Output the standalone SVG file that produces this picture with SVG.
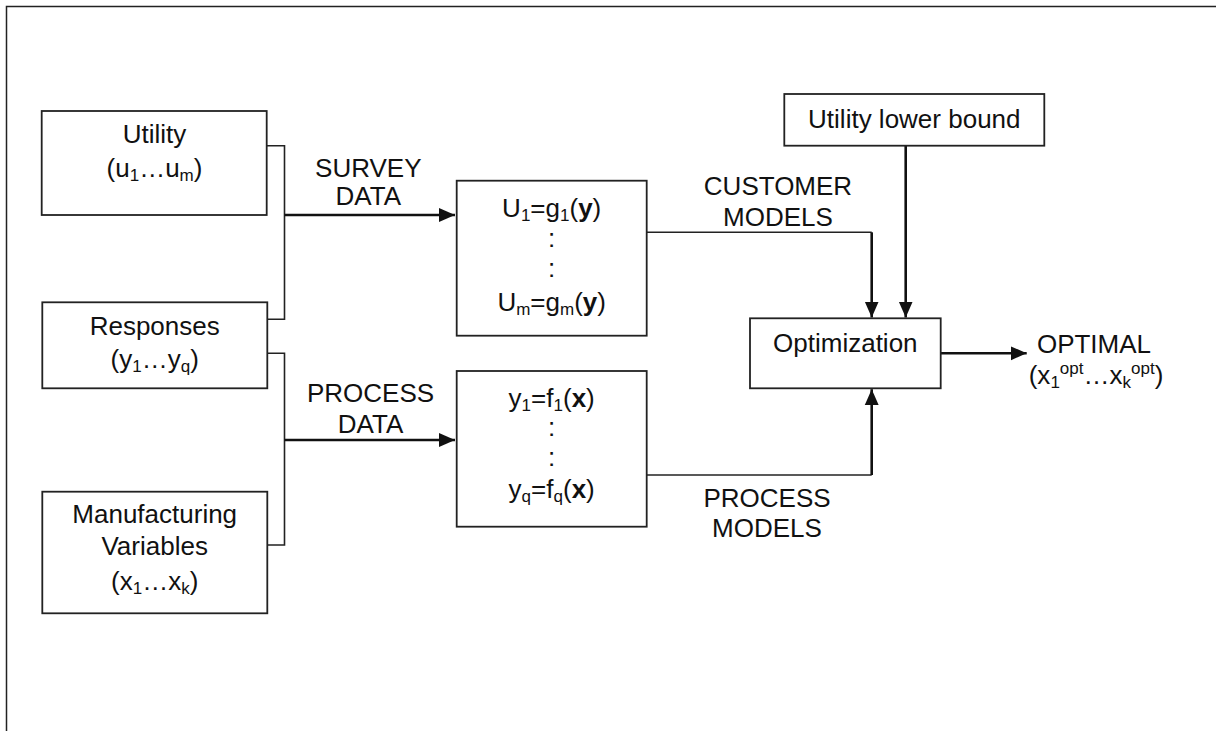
<svg xmlns="http://www.w3.org/2000/svg" width="1216" height="731" viewBox="0 0 1216 731">
  <defs>
    <style>
      .frame { fill: none; stroke: #222; stroke-width: 1.5; }
      .box { fill: #fff; stroke: #222; stroke-width: 1.8; }
      .thin { fill: none; stroke: #222; stroke-width: 1.6; }
      .thick { fill: none; stroke: #111; stroke-width: 2.6; }
      text { font-family: "Liberation Sans", Arial, sans-serif; font-size: 26px; fill: #111; }
      .c { text-anchor: middle; }
      .b { font-weight: bold; }
      .s { font-size: 17px; }
    </style>
    <marker id="arrow" markerUnits="userSpaceOnUse" markerWidth="17" markerHeight="15" refX="16" refY="7.5" orient="auto">
      <path d="M0,0.5 L16,7.5 L0,14.5 z" fill="#111"/>
    </marker>
  </defs>

  <rect width="1216" height="731" fill="#fff"/>

  <!-- page frame: top and left edges -->
  <path class="frame" d="M1216,6.5 H6.5 V731"/>

  <!-- connectors -->
  <g id="connectors">
    <!-- utility + responses bus into survey data -->
    <path class="thin" d="M266.7,145.7 H284.5 V319.3 H267.3"/>
    <path class="thick" d="M284.5,215 H455" marker-end="url(#arrow)"/>
    <!-- responses + manufacturing bus into process data -->
    <path class="thin" d="M267.3,353.3 H284.5 V545 H267.3"/>
    <path class="thick" d="M284.5,440 H455" marker-end="url(#arrow)"/>
    <!-- customer models -->
    <path class="thin" d="M646.7,232.3 H871.7"/>
    <path class="thick" d="M871.7,232.3 V317.5" marker-end="url(#arrow)"/>
    <!-- utility lower bound -->
    <path class="thick" d="M905.7,145.7 V317.5" marker-end="url(#arrow)"/>
    <!-- process models -->
    <path class="thin" d="M646.7,475 H871.7"/>
    <path class="thick" d="M871.7,475 V389.2" marker-end="url(#arrow)"/>
    <!-- optimal output -->
    <path class="thick" d="M940.7,353.3 H1026.7" marker-end="url(#arrow)"/>
  </g>

  <!-- connector labels -->
  <g id="labels">
    <text class="c" x="368.3" y="177.3">SURVEY</text>
    <text class="c" x="368.3" y="205">DATA</text>
    <text class="c" x="370.5" y="401.7">PROCESS</text>
    <text class="c" x="370.5" y="433.3">DATA</text>
    <text class="c" x="778" y="195">CUSTOMER</text>
    <text class="c" x="778" y="225.7">MODELS</text>
    <text class="c" x="767" y="506.7">PROCESS</text>
    <text class="c" x="767" y="536.7">MODELS</text>
    <text class="c" x="1094" y="352.7">OPTIMAL</text>
    <text class="c" x="1096" y="384">(x<tspan class="s" dy="4">1</tspan><tspan class="s" dy="-14">opt</tspan><tspan dy="10">…x</tspan><tspan class="s" dy="4">k</tspan><tspan class="s" dy="-14">opt</tspan><tspan dy="10">)</tspan></text>
  </g>

  <g id="utility">
    <rect class="box" x="41.7" y="111" width="225" height="104"/>
    <text class="c" x="154.5" y="143.3">Utility</text>
    <text class="c" x="154.5" y="176.7">(u<tspan class="s" dy="4">1</tspan><tspan dy="-4">…u</tspan><tspan class="s" dy="4">m</tspan><tspan dy="-4">)</tspan></text>
  </g>

  <g id="responses">
    <rect class="box" x="42.3" y="302.3" width="225" height="86"/>
    <text class="c" x="154.7" y="335">Responses</text>
    <text class="c" x="154.7" y="368.3">(y<tspan class="s" dy="4">1</tspan><tspan dy="-4">…y</tspan><tspan class="s" dy="4">q</tspan><tspan dy="-4">)</tspan></text>
  </g>

  <g id="manufacturing">
    <rect class="box" x="42.3" y="491.7" width="225" height="121.6"/>
    <text class="c" x="154.7" y="523.3">Manufacturing</text>
    <text class="c" x="154.7" y="555">Variables</text>
    <text class="c" x="154.7" y="590">(x<tspan class="s" dy="4">1</tspan><tspan dy="-4">…x</tspan><tspan class="s" dy="4">k</tspan><tspan dy="-4">)</tspan></text>
  </g>

  <g id="customer-models">
    <rect class="box" x="456.7" y="180.7" width="190" height="155"/>
    <text class="c" x="551.7" y="216.7">U<tspan class="s" dy="4">1</tspan><tspan dy="-4">=g</tspan><tspan class="s" dy="4">1</tspan><tspan dy="-4">(</tspan><tspan class="b">y</tspan>)</text>
    <text class="c" x="551.7" y="247">:</text>
    <text class="c" x="551.7" y="277">:</text>
    <text class="c" x="551.7" y="310.7">U<tspan class="s" dy="4">m</tspan><tspan dy="-4">=g</tspan><tspan class="s" dy="4">m</tspan><tspan dy="-4">(</tspan><tspan class="b">y</tspan>)</text>
  </g>

  <g id="process-models">
    <rect class="box" x="456.7" y="371" width="190" height="155.7"/>
    <text class="c" x="551.7" y="406.5">y<tspan class="s" dy="4">1</tspan><tspan dy="-4">=f</tspan><tspan class="s" dy="4">1</tspan><tspan dy="-4">(</tspan><tspan class="b">x</tspan>)</text>
    <text class="c" x="551.7" y="436">:</text>
    <text class="c" x="551.7" y="466">:</text>
    <text class="c" x="551.7" y="498.3">y<tspan class="s" dy="4">q</tspan><tspan dy="-4">=f</tspan><tspan class="s" dy="4">q</tspan><tspan dy="-4">(</tspan><tspan class="b">x</tspan>)</text>
  </g>

  <g id="utility-lower-bound">
    <rect class="box" x="784.3" y="94" width="260" height="51.7"/>
    <text class="c" x="914.3" y="127.7">Utility lower bound</text>
  </g>

  <g id="optimization">
    <rect class="box" x="750" y="318.3" width="190.7" height="70"/>
    <text class="c" x="845.3" y="351.7">Optimization</text>
  </g>
</svg>
